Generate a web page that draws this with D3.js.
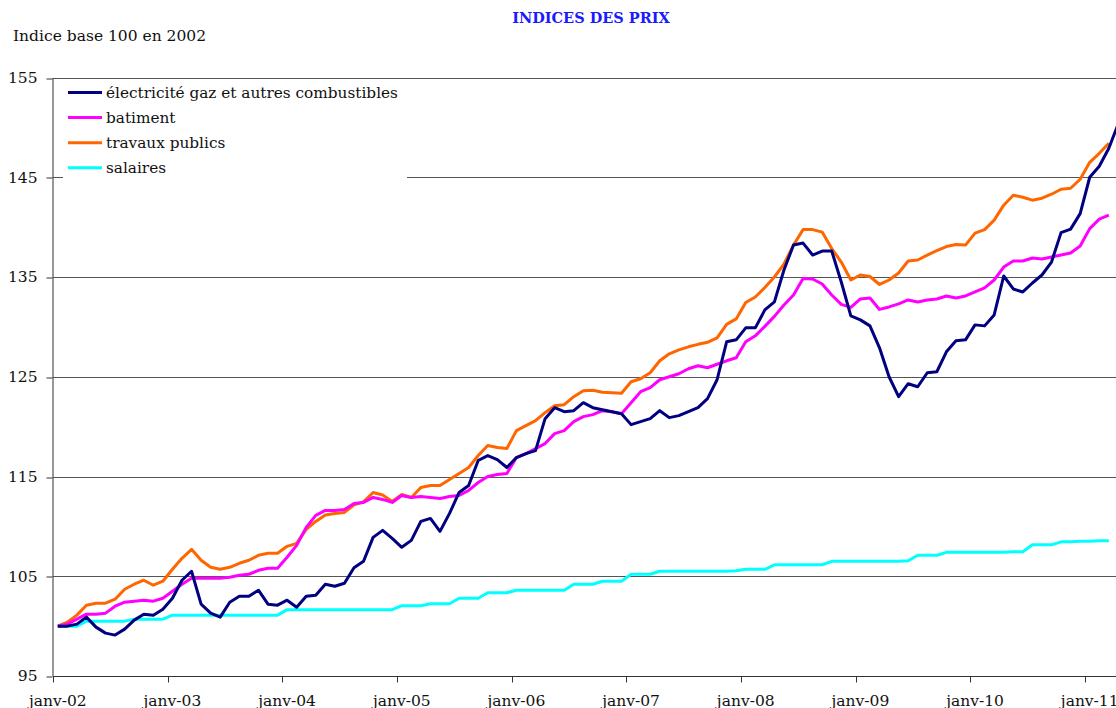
<!DOCTYPE html>
<html>
<head>
<meta charset="utf-8">
<script src="https://cdn.jsdelivr.net/npm/d3@7"></script>
<style>
  body { margin: 0; background: #fff; }
  text { font-family: "DejaVu Serif", serif; fill: #111; }
</style>
</head>
<body>
<div id="chart"></div>
<script>
// monthly indices, janv-02 .. avr-11 (base 100 = janv-02)
const elec = [
  100.0, 100.0, 100.2, 100.9, 99.9, 99.3, 99.1, 99.7, 100.6, 101.2, 101.1, 101.7,
  102.8, 104.6, 105.5, 102.2, 101.3, 100.9, 102.4, 103.0, 103.0, 103.6, 102.2, 102.1,
  102.6, 101.9, 103.0, 103.1, 104.2, 104.0, 104.3, 105.85, 106.5, 108.9, 109.6, 108.8,
  107.9, 108.6, 110.5, 110.8, 109.5, 111.3, 113.4, 114.1, 116.6, 117.1, 116.7, 115.9,
  116.9, 117.3, 117.6, 120.8, 121.9, 121.5, 121.6, 122.4, 121.9, 121.7, 121.5, 121.3,
  120.2, 120.5, 120.8, 121.6, 120.9, 121.1, 121.5, 121.9, 122.8, 124.7, 128.5, 128.7,
  129.9, 129.9, 131.7, 132.5, 135.7, 138.2, 138.4, 137.2, 137.6, 137.6, 134.5, 131.1,
  130.7, 130.1, 127.9, 125.0, 123.0, 124.3, 124.0, 125.4, 125.5, 127.5, 128.6, 128.7,
  130.2, 130.1, 131.2, 135.1, 133.8, 133.5, 134.4, 135.2, 136.5, 139.45, 139.8, 141.35,
  145.0, 146.1, 147.9, 150.4
];
const batiment = [
  100.0, 100.2, 100.7, 101.2, 101.2, 101.3, 102.0, 102.4, 102.5, 102.6, 102.5, 102.8,
  103.5, 104.2, 104.8, 104.8, 104.8, 104.8, 104.9, 105.1, 105.2, 105.6, 105.8, 105.8,
  106.9, 108.1, 109.9, 111.1, 111.6, 111.6, 111.7, 112.3, 112.4, 112.9, 112.7, 112.4,
  113.1, 112.9, 113.0, 112.9, 112.8, 113.0, 113.1, 113.6, 114.4, 115.0, 115.2, 115.3,
  116.9, 117.3, 117.8, 118.3, 119.3, 119.6, 120.5, 121.0, 121.2, 121.6, 121.5, 121.3,
  122.4, 123.5, 123.9, 124.7, 125.0, 125.3, 125.8, 126.1, 125.9, 126.25, 126.6, 126.9,
  128.5, 129.1, 130.05, 131.05, 132.2, 133.2, 134.85, 134.8, 134.3, 133.2, 132.25, 131.95,
  132.8, 132.9, 131.75, 132.0, 132.3, 132.7, 132.5, 132.7, 132.8, 133.1, 132.9, 133.1,
  133.5, 133.9, 134.7, 136.0, 136.6, 136.6, 136.9, 136.8, 137.0, 137.2, 137.4, 138.1,
  139.85, 140.8, 141.2
];
const travaux = [
  100.0, 100.4, 101.1, 102.1, 102.3, 102.3, 102.7, 103.7, 104.2, 104.6, 104.1, 104.5,
  105.7, 106.8, 107.7, 106.6, 105.9, 105.7, 105.9, 106.3, 106.6, 107.1, 107.3, 107.3,
  108.0, 108.3, 109.7, 110.5, 111.15, 111.3, 111.4, 112.15, 112.45, 113.4, 113.15, 112.5,
  113.2, 112.9, 113.9, 114.1, 114.1, 114.7, 115.3, 115.9, 117.1, 118.1, 117.9, 117.8,
  119.6, 120.1, 120.6, 121.4, 122.1, 122.2, 123.0, 123.6, 123.65, 123.45, 123.4, 123.35,
  124.5, 124.8, 125.4, 126.6, 127.3, 127.7, 128.0, 128.25, 128.45, 128.9, 130.25, 130.8,
  132.45, 133.0, 133.95, 135.0, 136.3, 138.2, 139.75, 139.75, 139.5, 137.85, 136.5, 134.7,
  135.2, 135.05, 134.25, 134.7, 135.4, 136.6, 136.7, 137.2, 137.65, 138.05, 138.25, 138.2,
  139.4, 139.75, 140.7, 142.2, 143.2, 143.0, 142.7, 142.9, 143.3, 143.8, 143.9, 144.8,
  146.5, 147.4, 148.4
];
const salaires = [
  100.0, 100.0, 100.0, 100.5, 100.5, 100.5, 100.5, 100.5, 100.7, 100.7, 100.7, 100.7,
  101.1, 101.1, 101.1, 101.1, 101.1, 101.1, 101.1, 101.1, 101.1, 101.1, 101.1, 101.1,
  101.65, 101.65, 101.65, 101.65, 101.65, 101.65, 101.65, 101.65, 101.65, 101.65, 101.65, 101.65,
  102.05, 102.05, 102.05, 102.25, 102.25, 102.25, 102.8, 102.8, 102.8, 103.35, 103.35, 103.35,
  103.6, 103.6, 103.6, 103.6, 103.6, 103.6, 104.2, 104.2, 104.2, 104.5, 104.5, 104.5,
  105.2, 105.2, 105.2, 105.5, 105.5, 105.5, 105.5, 105.5, 105.5, 105.5, 105.5, 105.55,
  105.7, 105.7, 105.7, 106.15, 106.15, 106.15, 106.15, 106.15, 106.15, 106.5, 106.5, 106.5,
  106.5, 106.5, 106.5, 106.5, 106.5, 106.55, 107.1, 107.1, 107.1, 107.4, 107.4, 107.4,
  107.4, 107.4, 107.4, 107.4, 107.45, 107.45, 108.15, 108.15, 108.15, 108.45, 108.45, 108.5,
  108.5, 108.55, 108.55
];

const seriesNames = ["électricité gaz et autres combustibles", "batiment", "travaux publics", "salaires"];
const seriesColors = ["#000080", "#ff00ff", "#ff6600", "#00ffff"];
const yTicks = [95, 105, 115, 125, 135, 145, 155];
const xLabels = ["janv-02", "janv-03", "janv-04", "janv-05", "janv-06", "janv-07", "janv-08", "janv-09", "janv-10", "janv-11"];

const width = 1116, height = 708;
const nMonths = 112;
const left = 53, monthW = 9.555;

const svg = d3.select("#chart").append("svg")
  .attr("width", width)
  .attr("height", height)
  .style("display", "block");

svg.append("rect").attr("width", width).attr("height", height).attr("fill", "#fff");

const x = d3.scaleBand()
  .domain(d3.range(nMonths))
  .range([left, left + nMonths * monthW]);

const y = d3.scaleLinear()
  .domain([95, 155])
  .range([676, 77.5]);

const crisp = v => Math.round(v) + 0.5;

/* horizontal gridlines */
svg.append("g")
  .selectAll("line")
  .data(yTicks.slice(1))
  .enter().append("line")
  .attr("x1", left)
  .attr("x2", width)
  .attr("y1", d => crisp(y(d)))
  .attr("y2", d => crisp(y(d)))
  .attr("stroke", "#555")
  .attr("stroke-width", 1);

/* y axis */
const yAxis = svg.append("g")
  .attr("transform", `translate(${left - 0.5},0)`)
  .call(d3.axisLeft(y).tickValues(yTicks).tickSize(6).tickSizeOuter(0).tickPadding(9));
yAxis.select(".domain").attr("stroke", "#333");
yAxis.selectAll(".tick line").attr("stroke", "#333").attr("transform", d => `translate(0,${crisp(y(d)) - y(d)})`);
yAxis.selectAll("text")
  .attr("fill", "#111")
  .style("font-size", "15.5px")
  .style("font-family", "'DejaVu Serif', serif");

/* x axis: ticks between months, every 12 */
const xAxis = svg.append("g")
  .attr("transform", `translate(0,${crisp(y(95))})`);
xAxis.append("line")
  .attr("x1", left)
  .attr("x2", width)
  .attr("stroke", "#333");
xAxis.selectAll(".xtick")
  .data(d3.range(0, nMonths, 12))
  .enter().append("line")
  .attr("class", "xtick")
  .attr("x1", d => crisp(x(d)))
  .attr("x2", d => crisp(x(d)))
  .attr("y1", 0)
  .attr("y2", 6)
  .attr("stroke", "#333");
xAxis.selectAll(".xlab")
  .data(xLabels)
  .enter().append("text")
  .attr("class", "xlab")
  .attr("x", (d, i) => x(i * 12) + x.bandwidth() / 2)
  .attr("y", 29)
  .attr("text-anchor", "middle")
  .style("font-size", "15.5px")
  .text(d => d);

/* series lines */
const line = d3.line()
  .x((d, i) => x(i) + x.bandwidth() / 2)
  .y(d => y(d));

const allSeries = [elec, batiment, travaux, salaires];
// draw salaires first, electricity on top
const drawOrder = [3, 2, 1, 0];
svg.append("g")
  .selectAll("path")
  .data(drawOrder)
  .enter().append("path")
  .attr("d", k => line(allSeries[k]))
  .attr("fill", "none")
  .attr("stroke", k => seriesColors[k])
  .attr("stroke-width", 3)
  .attr("stroke-linejoin", "round");

/* legend */
const legend = svg.append("g");
legend.append("rect")
  .attr("x", 63)
  .attr("y", 80)
  .attr("width", 344)
  .attr("height", 100)
  .attr("fill", "#fff");
const item = legend.selectAll(".item")
  .data(seriesNames)
  .enter().append("g")
  .attr("class", "item")
  .attr("transform", (d, i) => `translate(0,${92.5 + i * 25.1})`);
item.append("line")
  .attr("x1", 68)
  .attr("x2", 102)
  .attr("stroke", (d, i) => seriesColors[i])
  .attr("stroke-width", 3);
item.append("text")
  .attr("x", 106)
  .attr("dy", "0.35em")
  .style("font-size", "15.3px")
  .text(d => d);

/* titles */
svg.append("text")
  .attr("x", 591)
  .attr("y", 23)
  .attr("text-anchor", "middle")
  .style("font-size", "14.5px")
  .style("font-weight", "bold")
  .style("fill", "#1a1aff")
  .text("INDICES DES PRIX");

svg.append("text")
  .attr("x", 13)
  .attr("y", 41)
  .style("font-size", "15.5px")
  .text("Indice base 100 en 2002");
</script>
</body>
</html>
